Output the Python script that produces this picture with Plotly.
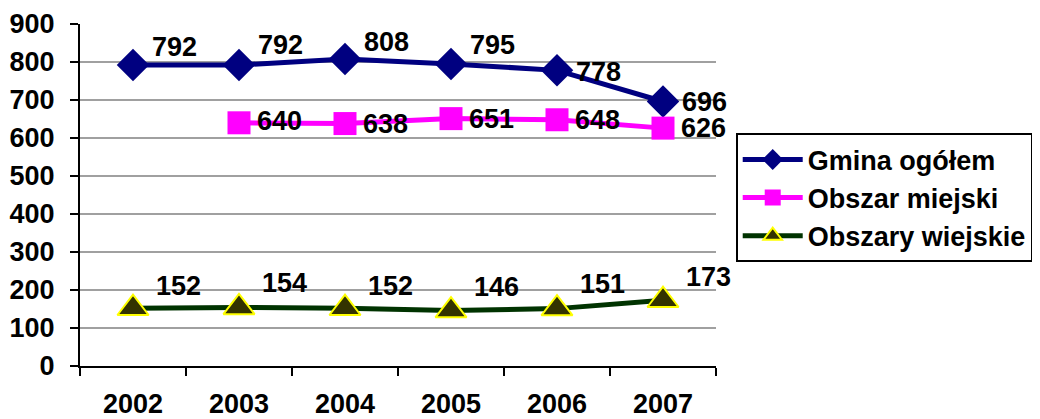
import plotly.graph_objects as go

years = ["2002", "2003", "2004", "2005", "2006", "2007"]
gmina = [792, 792, 808, 795, 778, 696]
miejski = [None, 640, 638, 651, 648, 626]
wiejskie = [152, 154, 152, 146, 151, 173]

FONT = "Liberation Sans, Arial, sans-serif"
FS = 27
TXT = dict(family=FONT, size=FS, color="black", weight="bold")

fig = go.Figure()
fig.add_trace(go.Scatter(
    x=years, y=gmina, name="Gmina ogółem", mode="lines+markers",
    line=dict(color="#000080", width=5),
    marker=dict(symbol="diamond", size=25, color="#000080"),
))
fig.add_trace(go.Scatter(
    x=years, y=miejski, name="Obszar miejski", mode="lines+markers",
    line=dict(color="#FF00FF", width=5),
    marker=dict(symbol="square", size=23, color="#FF00FF"),
))
fig.add_trace(go.Scatter(
    x=years, y=wiejskie, name="Obszary wiejskie", mode="lines+markers",
    line=dict(color="#003300", width=5),
    marker=dict(symbol="triangle-up", size=27, color="#333300",
                line=dict(color="#FFFF00", width=2)),
))

# data labels placed through the axes (category serial index on x);
# the pixel offsets are styling only
def add_labels(vals, dx, dy_list):
    for i, (v, dy) in enumerate(zip(vals, dy_list)):
        if v is None:
            continue
        fig.add_annotation(x=i, y=v, xref="x", yref="y", text=str(v),
                           showarrow=False, xanchor="left", yanchor="middle",
                           xshift=dx, yshift=dy, font=TXT, borderpad=0)

add_labels(gmina, 18, [18, 20, 17, 19, -2, 0])
add_labels(miejski, 17, [0, 2, 0, 0, 0, 0])
add_labels(wiejskie, 22, [22, 24, 22, 24, 25, 23])

# the page body has an 8px margin; margins below compensate for it
fig.update_layout(
    width=1040, height=419,
    margin=dict(l=72, r=332, t=16, b=61, autoexpand=False),
    paper_bgcolor="white", plot_bgcolor="white",
    font=dict(family=FONT, size=FS, color="black", weight="bold"),
    hovermode=False,
    legend=dict(
        x=1.031, y=0.68, xanchor="left", yanchor="top",
        bgcolor="white", bordercolor="black", borderwidth=2,
        font=TXT, itemwidth=60,
    ),
    xaxis=dict(
        type="category", range=[-0.5, 5.5], automargin=False,
        showline=True, linecolor="black", linewidth=2,
        ticks="outside", tickson="boundaries", ticklen=8, tickwidth=2, tickcolor="black",
        showgrid=False, ticklabelstandoff=13, tickfont=TXT,
    ),
    yaxis=dict(
        range=[0, 900], dtick=100, automargin=False,
        showline=True, linecolor="black", linewidth=2,
        ticks="outside", ticklen=8, tickwidth=2, tickcolor="black",
        showgrid=True, gridcolor="#A0A0A0", gridwidth=2,
        zeroline=False, ticklabelstandoff=10, tickfont=TXT,
    ),
)

fig.write_html("out.html")
